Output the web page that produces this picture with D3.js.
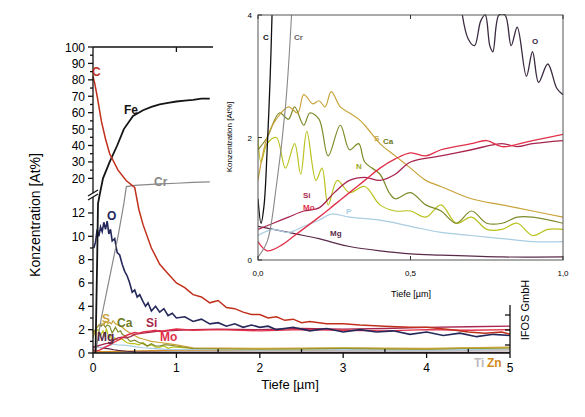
<!DOCTYPE html><html><head><meta charset="utf-8"><script src="https://cdn.jsdelivr.net/npm/d3@7"></script>
<style>body{margin:0;background:#fff}text{font-family:Arial,"Liberation Sans",sans-serif}</style></head><body><svg id="c" width="585" height="417"></svg><script>
// ---------- main chart data [x µm, At%] ----------
const mainC=[[0,82],[0.02,78],[0.05,70],[0.1,55],[0.15,44],[0.2,35],[0.3,25],[0.4,18.5],[0.5,14.5],[0.55,12.3],[0.6,11],[0.7,9],[0.8,7.6],[0.9,6.8],[1.0,6.0],[1.1,5.6],[1.2,5.0],[1.3,4.8],[1.4,4.3],[1.5,4.5],[1.6,3.9],[1.7,3.8],[1.8,3.5],[1.9,3.3],[2.0,3.3],[2.1,3.0],[2.2,3.1],[2.3,2.8],[2.4,2.9],[2.5,2.6],[2.6,2.7],[2.8,2.5],[3.0,2.5],[3.2,2.4],[3.5,2.3],[3.8,2.2],[4.0,2.2],[4.3,2.0],[4.5,1.8],[4.7,1.7],[4.9,1.8],[5.0,1.6]];
const mainFe=[[0.03,0],[0.05,8],[0.06,12.8],[0.08,13.5],[0.12,20],[0.2,30],[0.29,40],[0.37,50],[0.48,58],[0.6,61.5],[0.7,63.5],[0.8,65],[0.9,66],[1.0,66.8],[1.1,67.3],[1.2,67.8],[1.3,68.5],[1.4,68.5]];
const mainCr=[[0.03,0],[0.1,3],[0.2,6.5],[0.3,10],[0.37,12.8],[0.4,15],[0.5,15.7],[0.6,16],[0.8,16.6],[1.0,17],[1.2,17.5],[1.4,17.8]];
const mainO=[[0.01,9],[0.03,9.5],[0.05,10.6],[0.07,10],[0.09,10.8],[0.11,10.4],[0.13,11.2],[0.15,10.6],[0.17,11.3],[0.19,10.2],[0.21,10.6],[0.23,9.6],[0.26,9.8],[0.29,8.6],[0.32,8.4],[0.35,7.6],[0.38,7.0],[0.41,6.6],[0.44,6.0],[0.47,5.2],[0.5,5.4],[0.53,4.8],[0.56,5.0],[0.6,4.4],[0.63,4.0],[0.66,4.3],[0.7,3.6],[0.75,4.0],[0.8,3.5],[0.85,3.8],[0.9,3.2],[0.95,3.4],[1.0,3.0],[1.1,3.1],[1.2,2.7],[1.3,2.9],[1.4,2.5],[1.5,2.6],[1.6,2.3],[1.7,2.5],[1.8,2.2],[1.9,2.4],[2.0,2.2],[2.1,2.3],[2.2,2.0],[2.4,2.2],[2.6,1.9],[2.8,2.1],[3.0,1.8],[3.2,2.0],[3.4,1.8],[3.6,1.9],[3.8,1.6],[4.0,1.8],[4.2,1.5],[4.4,1.7],[4.6,1.4],[4.8,1.6],[5.0,1.5]];
const tailSi=[[1.2,2.0],[1.5,2.05],[2.0,2.0],[2.5,2.1],[3.0,2.05],[3.5,2.1],[4.0,2.2],[4.5,2.25],[5.0,2.3]];
const tailMo=[[1.2,1.95],[1.5,2.0],[2.0,1.9],[2.5,2.0],[3.0,1.95],[3.5,1.9],[4.0,2.0],[4.5,1.95],[5.0,2.0]];
const tailLow=[[1.2,0.4],[2.0,0.35],[3.0,0.4],[4.0,0.35],[5.0,0.45]];
const mainZn=[[0,0.1],[1,0.25],[2,0.25],[3,0.3],[4,0.3],[5,0.35]];
const mainTi=[[0,0.05],[1,0.15],[2,0.2],[3,0.2],[4,0.2],[5,0.25]];
// ---------- inset data ----------
const inC=[[0,1.0],[0.01,0.6],[0.02,0.9],[0.03,1.8],[0.04,3.0],[0.046,4]];
const inCr=[[0,0.05],[0.03,0.3],[0.06,1.2],[0.09,2.5],[0.11,4]];
const inO=[[0.67,4],[0.69,3.6],[0.71,3.5],[0.73,3.9],[0.745,4],[0.76,3.5],[0.77,3.4],[0.79,4],[0.81,4],[0.83,3.5],[0.85,3.8],[0.88,3.0],[0.90,3.4],[0.92,2.9],[0.95,3.2],[0.98,2.8],[1.0,2.7]];
const inS=[[0,1.3],[0.03,2.0],[0.06,2.3],[0.1,2.5],[0.13,2.4],[0.15,2.7],[0.18,2.55],[0.2,2.6],[0.22,2.5],[0.24,2.75],[0.27,2.5],[0.3,2.4],[0.33,2.3],[0.35,2.2],[0.4,1.9],[0.45,1.7],[0.5,1.5],[0.55,1.3],[0.6,1.2],[0.7,1.0],[0.8,0.9],[0.9,0.8],[1.0,0.7]];
const inCa=[[0,1.8],[0.03,2.0],[0.07,2.4],[0.1,2.3],[0.12,2.5],[0.15,2.2],[0.17,2.4],[0.2,2.3],[0.23,1.7],[0.27,2.2],[0.3,1.8],[0.33,1.9],[0.35,1.6],[0.4,1.4],[0.43,1.1],[0.45,1.0],[0.5,1.1],[0.55,0.9],[0.6,0.8],[0.65,0.6],[0.7,0.8],[0.75,0.6],[0.8,0.6],[0.85,0.7],[0.9,0.7],[1.0,0.6]];
const inN=[[0,2.0],[0.01,1.6],[0.03,1.9],[0.06,2.0],[0.09,1.5],[0.12,1.9],[0.14,1.4],[0.16,2.1],[0.19,1.3],[0.21,1.5],[0.23,0.9],[0.26,1.3],[0.3,1.1],[0.35,1.2],[0.4,0.9],[0.45,0.8],[0.5,0.8],[0.55,0.7],[0.6,0.9],[0.65,0.6],[0.7,0.7],[0.75,0.5],[0.8,0.5],[0.85,0.6],[0.9,0.4],[0.95,0.5],[1.0,0.5]];
const inSi=[[0,0.5],[0.05,0.6],[0.1,0.7],[0.15,0.8],[0.2,0.85],[0.25,1.1],[0.3,1.3],[0.35,1.35],[0.4,1.3],[0.45,1.4],[0.5,1.6],[0.6,1.7],[0.7,1.8],[0.8,1.9],[0.85,1.85],[0.9,1.9],[1.0,1.95]];
const inMo=[[0,0.3],[0.03,0.15],[0.08,0.25],[0.12,0.4],[0.2,0.7],[0.25,0.9],[0.3,1.1],[0.35,1.3],[0.4,1.5],[0.45,1.65],[0.5,1.75],[0.55,1.7],[0.6,1.8],[0.7,1.9],[0.75,1.95],[0.8,1.85],[0.9,1.95],[1.0,2.05]];
const inP=[[0,0.4],[0.05,0.5],[0.1,0.45],[0.15,0.55],[0.2,0.65],[0.24,0.75],[0.3,0.7],[0.4,0.65],[0.5,0.55],[0.6,0.45],[0.7,0.4],[0.8,0.35],[0.9,0.3],[1.0,0.3]];
const inMg=[[0,0.55],[0.05,0.5],[0.1,0.45],[0.15,0.4],[0.2,0.35],[0.25,0.28],[0.3,0.22],[0.4,0.15],[0.5,0.1],[0.6,0.08],[0.8,0.05],[1.0,0.05]];
const col={C:"#c0301c",Fe:"#151515",Cr:"#888",O:"#25285a",S:"#c9a33a",Ca:"#7f8a2a",N:"#b9c21e",Si:"#a8264e",Mo:"#e0304a",P:"#a9cde3",Mg:"#5a2a4a",Zn:"#d08a20",Ti:"#bbb"};
const lowerTicks=[0,2,4,6,8,10,12], upperTicks=[20,30,40,50,60,70,80,90,100];
const xTicks=[0,1,2,3,4,5], inXTicks=[0,0.5,1], inXLabels=["0,0","0,5","1,0"], inYTicks=[0,2,4];

const svg=d3.select("#c");
const x=d3.scaleLinear().domain([0,5]).range([93,510]);
const y=d3.scaleLinear().domain([0,13,14,100]).range([353,201.3,188.2,47]).clamp(true);
const line=(sx,sy,c)=>d3.line().x(d=>sx(d[0])).y(d=>sy(d[1])).curve(c||d3.curveLinear);
const L=line(x,y);
function draw(g,data,c,w,l){g.append("path").attr("d",l(data)).attr("fill","none").attr("stroke",c).attr("stroke-width",w||1.4);}
const gm=svg.append("g");
draw(gm,mainTi,col.Ti,1.2,L);draw(gm,mainZn,col.Zn,1.2,L);
draw(gm,inMg.concat([[1.5,0.05],[5,0.05]]),col.Mg,1.2,L);
draw(gm,inP.concat(tailLow.map(d=>[d[0],d[1]-0.1])),col.P,1.2,L);
draw(gm,inN.concat(tailLow),col.N,1.2,L);
draw(gm,inCa.concat(tailLow),col.Ca,1.2,L);
draw(gm,inS.concat(tailLow.map(d=>[d[0],d[1]+0.05])),col.S,1.2,L);
draw(gm,inSi.concat(tailSi),col.Si,1.4,L);
draw(gm,inMo.concat(tailMo),col.Mo,1.4,L);
draw(gm,mainO,col.O,1.6,L);
draw(gm,mainCr,col.Cr,1.2,L);
draw(gm,mainFe,col.Fe,1.8,L);
draw(gm,mainC,col.C,1.5,L);
// axes
const ax=svg.append("g").attr("stroke","#111").attr("stroke-width",1.3);
ax.append("line").attr("x1",93).attr("x2",93).attr("y1",47).attr("y2",193);
ax.append("line").attr("x1",93).attr("x2",93).attr("y1",197).attr("y2",353);
ax.append("line").attr("x1",93).attr("x2",510).attr("y1",353).attr("y2",353);
ax.append("line").attr("x1",93).attr("x2",213).attr("y1",47).attr("y2",47);
ax.append("line").attr("x1",x(1)).attr("x2",x(1)).attr("y1",47).attr("y2",52);
ax.append("line").attr("x1",510).attr("x2",510).attr("y1",305).attr("y2",353);
[315,330,345].forEach(v=>ax.append("line").attr("x1",505).attr("x2",510).attr("y1",v).attr("y2",v));
ax.append("path").attr("d","M88,196 L98,190 M88,200 L98,194").attr("fill","none");
lowerTicks.forEach(t=>{ax.append("line").attr("x1",88).attr("x2",93).attr("y1",y(t)).attr("y2",y(t));
 if(t<12)ax.append("line").attr("x1",90).attr("x2",93).attr("y1",y(t+1)).attr("y2",y(t+1));
 svg.append("text").attr("x",85).attr("y",y(t)+4.5).attr("text-anchor","end").attr("font-size",12).text(t);});
upperTicks.forEach(t=>{ax.append("line").attr("x1",88).attr("x2",93).attr("y1",y(t)).attr("y2",y(t));
 if(t<100)ax.append("line").attr("x1",90).attr("x2",93).attr("y1",y(t+5)).attr("y2",y(t+5));
 svg.append("text").attr("x",85).attr("y",y(t)+4.5).attr("text-anchor","end").attr("font-size",12).text(t);});
xTicks.forEach(t=>{ax.append("line").attr("x1",x(t)).attr("x2",x(t)).attr("y1",353).attr("y2",358);
 if(t<5)ax.append("line").attr("x1",x(t+0.5)).attr("x2",x(t+0.5)).attr("y1",353).attr("y2",349);
 svg.append("text").attr("x",x(t)).attr("y",372).attr("text-anchor","middle").attr("font-size",12).text(t);});
svg.append("text").attr("x",290).attr("y",389).attr("text-anchor","middle").attr("font-size",13).text("Tiefe [µm]");
svg.append("text").attr("transform","translate(40,215) rotate(-90)").attr("text-anchor","middle").attr("font-size",14).text("Konzentration [At%]");
const labs=[["C",92,76,col.C],["Fe",124,114,col.Fe],["Cr",154,186,col.Cr],["O",107,220,col.O],["S",102,323,col.S],["Ca",117,327,"#6f7a20"],["Si",146,327,col.Si],["Mo",160,341,col.Mo],["Mg",97,341,col.Mg],["Ti",474,367,col.Ti],["Zn",487,367,col.Zn]];
labs.forEach(l=>svg.append("text").attr("x",l[1]).attr("y",l[2]).attr("fill",l[3]).attr("font-size",12).attr("font-weight","bold").text(l[0]));
// ---------- inset ----------
const xi=d3.scaleLinear().domain([0,1]).range([258,563]);
const yi=d3.scaleLinear().domain([0,4]).range([260,15]).clamp(true);
const gi=svg.append("g");
gi.append("rect").attr("x",236).attr("y",0).attr("width",349).attr("height",300).attr("fill","#fff");
const LI=line(xi,yi,d3.curveCatmullRom);
gi.append("clipPath").attr("id","ic").append("rect").attr("x",258).attr("y",14).attr("width",305).attr("height",247);
const gl=gi.append("g").attr("clip-path","url(#ic)");
draw(gl,inMg,col.Mg,1.2,LI);draw(gl,inP,col.P,1.2,LI);draw(gl,inN,col.N,1.2,LI);draw(gl,inCa,col.Ca,1.2,LI);draw(gl,inS,col.S,1.2,LI);
draw(gl,inSi,col.Si,1.3,LI);draw(gl,inMo,col.Mo,1.3,LI);draw(gl,inO,"#3a2a40",1.3,LI);draw(gl,inCr,col.Cr,1.1,LI);draw(gl,inC,"#111",1.3,LI);
gi.append("rect").attr("x",258).attr("y",15).attr("width",305).attr("height",245).attr("fill","none").attr("stroke","#555").attr("stroke-width",1);
inYTicks.forEach(t=>{gi.append("line").attr("x1",258).attr("x2",262).attr("y1",yi(t)).attr("y2",yi(t)).attr("stroke","#333");
 gi.append("text").attr("x",252).attr("y",yi(t)+3).attr("text-anchor","end").attr("font-size",8).text(t);});
inXTicks.forEach((t,i)=>{gi.append("line").attr("x1",xi(t)).attr("x2",xi(t)).attr("y1",260).attr("y2",256).attr("stroke","#333");
 gi.append("line").attr("x1",xi(t)).attr("x2",xi(t)).attr("y1",15).attr("y2",19).attr("stroke","#333");
 gi.append("text").attr("x",xi(t)).attr("y",276).attr("text-anchor","middle").attr("font-size",8).text(inXLabels[i]);});
gi.append("text").attr("x",411).attr("y",297).attr("text-anchor","middle").attr("font-size",9).text("Tiefe [µm]");
gi.append("text").attr("transform","translate(232,137) rotate(-90)").attr("text-anchor","middle").attr("font-size",8).text("Konzentration [At%]");
const il=[["C",263,40,"#111"],["Cr",294,40,"#666"],["O",532,44,"#3a2a40"],["S",374,141,col.S],["Ca",383,144,"#6f7a20"],["N",356,169,"#a0a818"],["Si",303,198,col.Si],["Mo",303,210,col.Mo],["P",346,214,col.P],["Mg",330,236,col.Mg]];
il.forEach(l=>gi.append("text").attr("x",l[1]).attr("y",l[2]).attr("fill",l[3]).attr("font-size",8).attr("font-weight","bold").text(l[0]));
svg.append("text").attr("transform","translate(529,310) rotate(-90)").attr("text-anchor","middle").attr("font-size",11).text("IFOS GmbH");
</script></body></html>
